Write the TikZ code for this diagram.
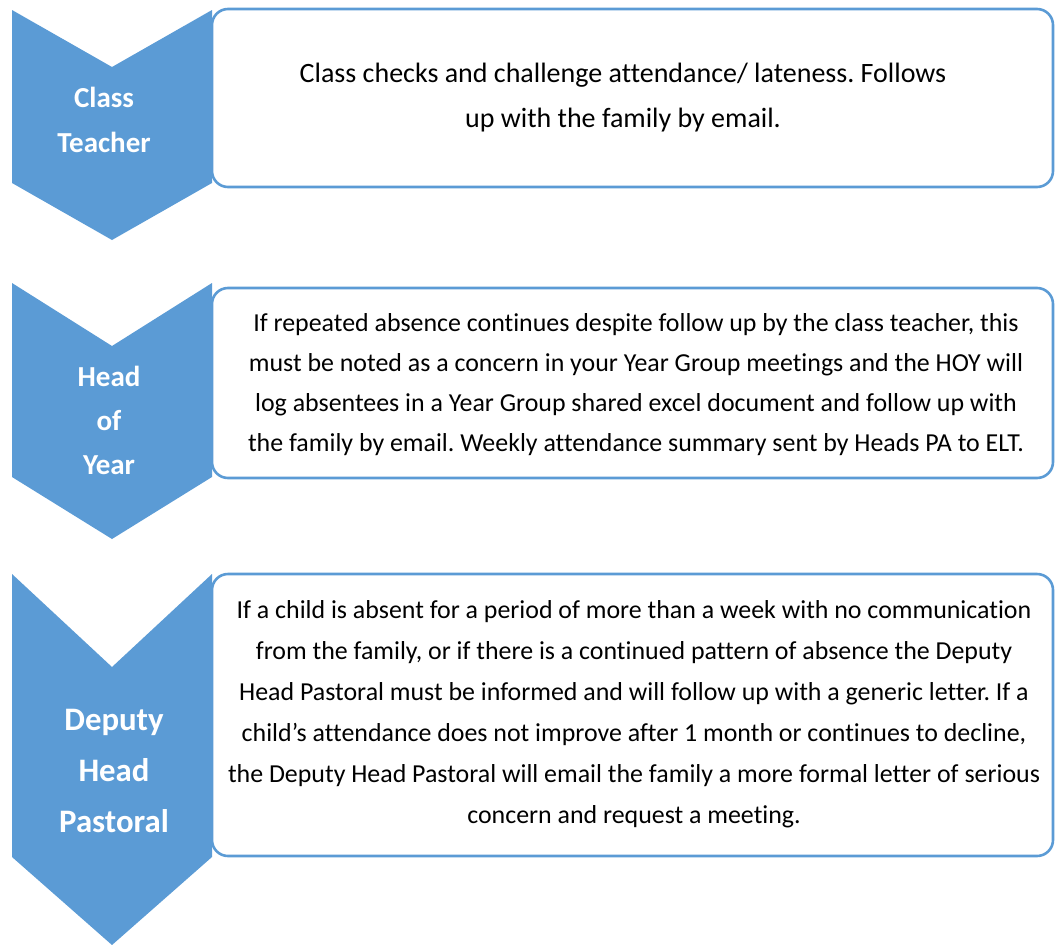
\documentclass[tikz,border=0pt]{standalone}
\usepackage{fontspec}
\setmainfont{Carlito}[Ligatures=NoCommon]
\frenchspacing
\definecolor{chev}{HTML}{5B9BD5}
\tikzset{
  chevron/.style={fill=chev, draw=none},
  stepbox/.style={draw=chev, line width=2.6pt, rounded corners=16pt, fill=white},
  boxtext/.style={align=center, text=black, inner sep=0pt},
  label/.style={align=center, text=white, font=\bfseries, inner sep=0pt}
}
\begin{document}
\begin{tikzpicture}[x=1pt,y=-1pt]
\useasboundingbox (0,0) rectangle (1055,945);
% chevrons
\path[chevron] (12,10) -- (112,67) -- (212,10) -- (212,183) -- (112,240) -- (12,183) -- cycle;
\path[chevron] (12,283) -- (112,346) -- (212,283) -- (212,477) -- (112,539) -- (12,477) -- cycle;
\path[chevron] (12,574) -- (112,667) -- (212,574) -- (212,857) -- (112,945) -- (12,857) -- cycle;
% boxes
\draw[stepbox] (212,9) rectangle (1053,187);
\draw[stepbox] (212,288) rectangle (1053,478);
\draw[stepbox] (212,574) rectangle (1053,856);
% labels
\node[label, font=\bfseries\fontsize{29}{45}\selectfont] (l1) at (104,120) {Class\\Teacher};
\node[label, font=\bfseries\fontsize{29}{44}\selectfont] (l2) at (109,420) {Head\\of\\Year};
\node[label, font=\bfseries\fontsize{32.8}{51}\selectfont] (l3) at (114,771) {Deputy\\Head\\Pastoral};
% texts
\node[boxtext, font=\fontsize{28}{45}\selectfont] (t1) at (623,98) {Class checks and challenge attendance/ lateness. Follows\\up with the family by email.};
\node[boxtext, font=\fontsize{25.9}{40}\selectfont] (t2) at (636,385) {If repeated absence continues despite follow up by the class teacher, this\\must be noted as a concern in your Year Group meetings and the HOY will\\log absentees in a Year Group shared excel document and follow up with\\the family by email. Weekly attendance summary sent by Heads PA to ELT.};
\node[boxtext, font=\fontsize{25.9}{41}\selectfont] (t3) at (634,714) {If a child is absent for a period of more than a week with no communication\\from the family, or if there is a continued pattern of absence the Deputy\\Head Pastoral must be informed and will follow up with a generic letter. If a\\child’s attendance does not improve after 1 month or continues to decline,\\the Deputy Head Pastoral will email the family a more formal letter of serious\\concern and request a meeting.};
\end{tikzpicture}
\end{document}
